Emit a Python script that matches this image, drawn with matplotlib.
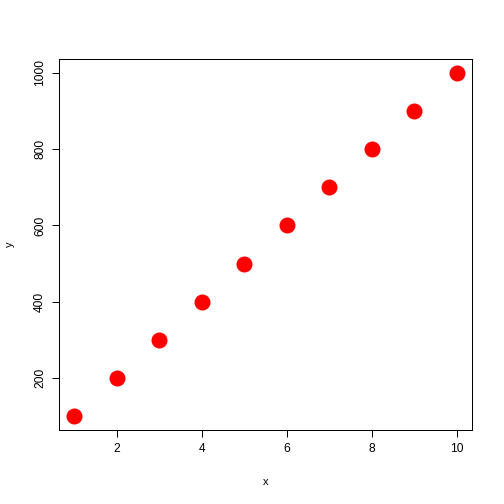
import matplotlib
matplotlib.use("Agg")
import matplotlib.pyplot as plt

plt.rcParams['font.family'] = ['Liberation Sans', 'DejaVu Sans']

x = [1, 2, 3, 4, 5, 6, 7, 8, 9, 10]
y = [100, 200, 300, 400, 500, 600, 700, 800, 900, 1000]
x_ticks = [2, 4, 6, 8, 10]
y_ticks = [200, 400, 600, 800, 1000]

fig = plt.figure(figsize=(7, 7), dpi=72)
ax = fig.add_axes([59 / 504, 74 / 504, 413 / 504, 371 / 504])

ax.plot(x, y, 'o', color='red', markersize=16, markeredgewidth=0)

ax.set_xlim(0.64, 10.36)
ax.set_ylim(64, 1036)
ax.set_xticks(x_ticks)
ax.set_yticks(y_ticks)
ax.tick_params(length=7, width=1, labelsize=12, pad=6)
for lab in ax.get_yticklabels():
    lab.set_rotation(90)
    lab.set_va('center')
for s in ax.spines.values():
    s.set_linewidth(1)

ax.set_xlabel('x', fontsize=11, labelpad=22)
ax.set_ylabel('y', fontsize=11, labelpad=19)

fig.savefig('out.png', dpi=72)
